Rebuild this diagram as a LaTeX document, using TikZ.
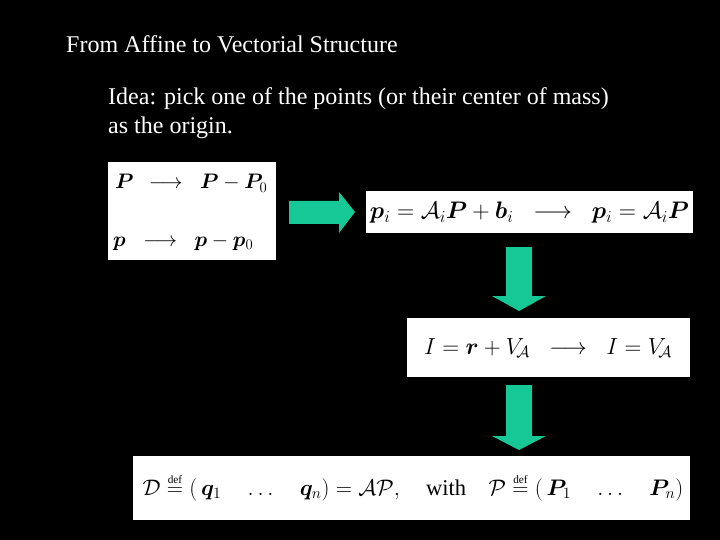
\RequirePackage{fix-cm}
\documentclass[tikz,border=0pt]{standalone}
\usepackage{amsmath,bm}
\usepackage{fontspec}
\setmainfont{Liberation Serif}
\definecolor{arrowgreen}{RGB}{22,200,150}
\tikzset{
  box/.style={fill=white, draw=none, inner sep=0pt},
  blockarrow/.style={fill=arrowgreen, draw=none},
  txt/.style={text=white, anchor=base west, inner sep=0pt, font=\fontsize{24}{28}\selectfont},
  eq/.style={inner sep=0pt, text=black}
}
\newcommand{\defeq}{\stackrel{\scriptscriptstyle\mathrm{def}}{=}}
\begin{document}
\begin{tikzpicture}[x=1pt,y=-1pt]
\fill[black] (0,0) rectangle (720,540);
\useasboundingbox (0,0) rectangle (720,540);
\node[txt] (title) at (66,53) {From Affine to Vectorial Structure};
\node[txt] (idea1) at (108,105) {Idea: pick one of the points (or their center of mass)};
\node[txt] (idea2) at (108,134) {as the origin.};
% boxes
\node[box, minimum width=168pt, minimum height=98pt] (b1) at (192,211) {};
\node[box, minimum width=327pt, minimum height=42pt] (b2) at (529.5,212) {};
\node[box, minimum width=283pt, minimum height=59pt] (b3) at (548.5,347.5) {};
\node[box, minimum width=557pt, minimum height=64pt] (b4) at (411.5,488) {};
% contents
\node[eq, anchor=base west, font=\fontsize{21}{25}\selectfont] (e1a) at (115,189) {$\bm P \;\,\longrightarrow\;\; \bm P - \bm P_0$};
\node[eq, anchor=base west, font=\fontsize{21}{25}\selectfont] (e1b) at (113,246) {$\bm p \;\;\longrightarrow\;\; \bm p - \bm p_0$};
\node[eq, font=\fontsize{23.9}{28}\selectfont] (e2) at (529.5,213) {$\bm p_i = \mathcal{A}_i \bm P + \bm b_i \;\;\longrightarrow\;\; \bm p_i = \mathcal{A}_i \bm P$};
\node[eq, font=\fontsize{23.3}{28}\selectfont] (e3) at (548,348) {$I = \bm r + V_{\!\mathcal{A}} \;\;\longrightarrow\;\; I = V_{\!\mathcal{A}}$};
\node[eq, font=\fontsize{22.5}{26}\selectfont] (e4) at (413,487) {$\mathcal{D} \defeq (\,\bm q_1 \quad \ldots \quad \bm q_n) = \mathcal{A}\mathcal{P}, \quad \text{with} \quad \mathcal{P} \defeq (\,\bm P_1 \quad \ldots \quad \bm P_n)$};
% block arrows
\fill[blockarrow] (289,201) -- (339,201) -- (339,192) -- (355,212) -- (339,233) -- (339,224) -- (289,224) -- cycle;
\fill[blockarrow] (506,247) -- (532,247) -- (532,296) -- (546,296) -- (519,311) -- (492,296) -- (506,296) -- cycle;
\fill[blockarrow] (506,385) -- (532,385) -- (532,436) -- (546,436) -- (519,450) -- (492,436) -- (506,436) -- cycle;
\end{tikzpicture}
\end{document}
